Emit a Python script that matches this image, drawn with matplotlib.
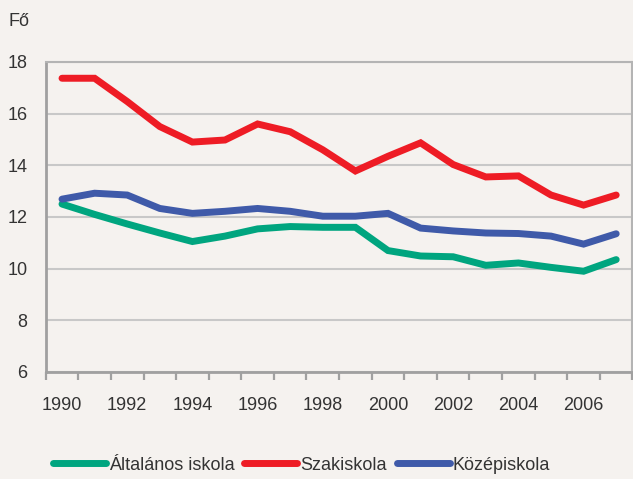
import numpy as np
import matplotlib.pyplot as plt
from matplotlib.ticker import FixedLocator

plt.rcParams['font.family'] = ['Liberation Sans', 'DejaVu Sans']

years = list(range(1990, 2008))
altalanos = [12.5, 12.1, 11.73, 11.38, 11.05, 11.26, 11.54, 11.63, 11.6, 11.6,
             10.7, 10.49, 10.46, 10.13, 10.22, 10.05, 9.9, 10.35]
szakiskola = [17.37, 17.37, 16.47, 15.5, 14.9, 14.98, 15.6, 15.3, 14.6, 13.78,
              14.35, 14.87, 14.03, 13.55, 13.59, 12.85, 12.46, 12.85]
kozepiskola = [12.69, 12.92, 12.85, 12.33, 12.14, 12.22, 12.33, 12.22, 12.03, 12.03,
               12.14, 11.57, 11.46, 11.38, 11.36, 11.26, 10.95, 11.35]
yticks = [6, 8, 10, 12, 14, 16, 18]

bg = '#f5f2ef'
txt = '#333333'
fs = 13

fig = plt.figure(figsize=(6.33, 4.79), dpi=100, facecolor=bg)
ax = fig.add_axes([0.0722, 0.2234, 0.9270, 0.6472], facecolor=bg)

x = np.arange(len(years))
series = [('Általános iskola', altalanos, '#00a57f'),
          ('Szakiskola', szakiskola, '#ee1c25'),
          ('Középiskola', kozepiskola, '#3f5aa9')]
for name, vals, col in series:
    ax.plot(x, vals, color=col, lw=5, label=name, solid_capstyle='round',
            solid_joinstyle='miter', zorder=3)

ax.set_xlim(-0.5, len(years) - 0.5)
ax.set_ylim(6, 18)
ax.set_yticks(yticks)
ax.set_xticks(x[::2])
ax.set_xticklabels([str(y) for y in years[::2]])
ax.xaxis.set_minor_locator(FixedLocator(np.arange(-0.5, len(years), 1)))

ax.tick_params(axis='x', which='major', length=0, pad=18, labelsize=fs, labelcolor=txt)
ax.tick_params(axis='x', which='minor', length=6, width=1.6, color='#a0a0a0', direction='out')
ax.tick_params(axis='y', length=0, pad=13, labelsize=fs, labelcolor=txt)

ax.yaxis.grid(True, color='#c8c8c8', lw=1.5, zorder=0)
ax.set_axisbelow(True)

for s in ['left', 'bottom']:
    ax.spines[s].set_color('#a0a0a0')
    ax.spines[s].set_linewidth(2)
for s in ['top', 'right']:
    ax.spines[s].set_color('#b4b4b4')
    ax.spines[s].set_linewidth(1.5)

fig.text(9 / 633, 1 - 22 / 479, 'Fő', fontsize=fs, color=txt, va='center', ha='left')

fig.legend(loc='center', bbox_to_anchor=(0.476, 0.029), ncol=3, frameon=False,
           fontsize=fs, handlelength=2.93, handletextpad=0.17, columnspacing=0.55,
           labelcolor=txt)

fig.savefig('out.png', dpi=100, facecolor=bg)
